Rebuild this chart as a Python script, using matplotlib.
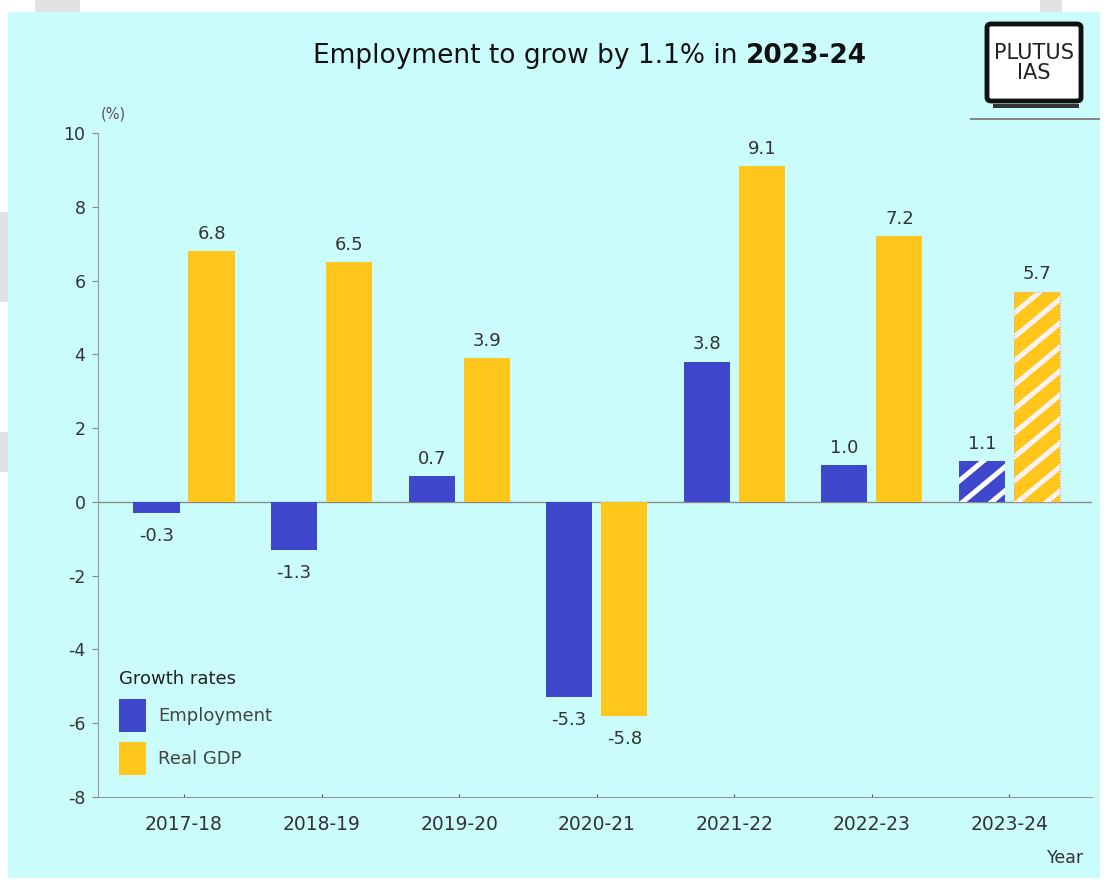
import numpy as np
import matplotlib.pyplot as plt
from matplotlib.patches import Rectangle, FancyBboxPatch, Patch

# data
years = ['2017-18', '2018-19', '2019-20', '2020-21', '2021-22', '2022-23', '2023-24']
employment = [-0.3, -1.3, 0.7, -5.3, 3.8, 1.0, 1.1]
real_gdp = [6.8, 6.5, 3.9, -5.8, 9.1, 7.2, 5.7]
emp_labels = ['-0.3', '-1.3', '0.7', '-5.3', '3.8', '1.0', '1.1']
gdp_labels = ['6.8', '6.5', '3.9', '-5.8', '9.1', '7.2', '5.7']

blue = '#3f48cc'
yellow = '#ffc71c'
bg = '#c9fcfb'
txt = '#333333'

plt.rcParams['font.family'] = ['DejaVu Sans']
plt.rcParams['axes.unicode_minus'] = False

fig = plt.figure(figsize=(11.08, 8.82), dpi=100)
fig.patch.set_facecolor('white')

# cyan panel and the grey scraps around it
fig.patches.append(Rectangle((8/1108, 4/882), 1092/1108, 866/882, transform=fig.transFigure,
                             facecolor=bg, edgecolor='none', zorder=-2))
for (x0, y0, w, h) in [(35, 870, 45, 12), (1040, 870, 22, 12), (0, 580, 8, 90), (0, 410, 8, 40)]:
    fig.patches.append(Rectangle((x0/1108, y0/882), w/1108, h/882, transform=fig.transFigure,
                                 facecolor='#e2e2e2', edgecolor='none', zorder=-2))

ax = fig.add_axes([98/1108, 85/882, 994/1108, 664/882])
ax.set_facecolor('none')

x = np.arange(len(years))
w = 0.335
off = 0.2
n = len(years)

ax.bar(x - off, employment, w, color=blue, zorder=3)
gdp_bars = ax.bar(x + off, real_gdp, w, color=yellow, zorder=3)
emp_bars = ax.patches[:n]

# white diagonal stripes on the projected year (hatch spacing too coarse/fine otherwise)
slope = 3.1  # data units of y per data unit of x, ~40 degrees on screen
for bar, col in [(emp_bars[-1], 'white'), (gdp_bars[-1], '#fff2f2')]:
    bx = bar.get_x()
    bw = bar.get_width()
    for c in np.arange(-3, 8, 0.65):
        ln, = ax.plot([bx - 0.1, bx + bw + 0.1], [c, c + (bw + 0.2) * slope], color=col,
                      lw=3.6, solid_capstyle='butt', zorder=3.5)
        ln.set_clip_path(bar)
ax.bar(x[-1] + off, real_gdp[-1], w, facecolor='none', edgecolor='#f5a0a0', linewidth=0.8,
       linestyle=':', zorder=4)

for i in range(n):
    for val, lab, dx in [(employment[i], emp_labels[i], -off), (real_gdp[i], gdp_labels[i], off)]:
        if val >= 0:
            ax.annotate(lab, (x[i] + dx, val), xytext=(0, 6), textcoords='offset points',
                        ha='center', va='bottom', fontsize=13, color=txt)
        else:
            ax.annotate(lab, (x[i] + dx, val), xytext=(0, -10), textcoords='offset points',
                        ha='center', va='top', fontsize=13, color=txt)

ax.axhline(0, color='#8a8a8a', lw=1, zorder=2)
ax.set_xlim(-0.625, 6.6)
ax.set_ylim(-8, 10)
ax.set_yticks(np.arange(-8, 11, 2))
ax.set_xticks(x)
ax.set_xticklabels(years)
ax.tick_params(axis='y', length=4, color='#8a8a8a', labelsize=12.5, labelcolor=txt, pad=5)
ax.tick_params(axis='x', direction='in', length=2, color='#555555', labelsize=13.5,
               labelcolor=txt, pad=13)
for s in ['top', 'right']:
    ax.spines[s].set_visible(False)
for s in ['left', 'bottom']:
    ax.spines[s].set_color('#9a9a9a')

ax.text(0.003, 1.022, '(%)', transform=ax.transAxes, fontsize=10.5, color='#555555')
fig.text(1066/1108, 1 - 858/882, 'Year', fontsize=12.5, color=txt, ha='center', va='center')

t1 = fig.text(313/1108, 1 - 56/882, 'Employment to grow by 1.1% in ', fontsize=19,
              ha='left', va='center', color='#111111')
ax.annotate('2023-24', xy=(1, 0.5), xycoords=t1, va='center', ha='left',
            fontsize=19, fontweight='bold', color='#111111', annotation_clip=False)

handles = [Patch(facecolor=blue), Patch(facecolor=yellow)]
leg = ax.legend(handles, ['Employment', 'Real GDP'], title='Growth rates', loc='lower left',
                bbox_to_anchor=(0.008, 0.014), frameon=False, fontsize=13, title_fontsize=13,
                handlelength=1.5, handleheight=2.4, handletextpad=0.7, labelspacing=0.6,
                alignment='left', borderpad=0.2)
for t in leg.get_texts():
    t.set_color('#444444')
leg.get_title().set_color('#222222')

# logo
fig.patches.append(FancyBboxPatch((987/1108, 1 - 101/882), 94/1108, 77/882,
                                  boxstyle='round,pad=0,rounding_size=0.004',
                                  transform=fig.transFigure, facecolor='white',
                                  edgecolor='#111111', linewidth=3.5, zorder=5))
fig.patches.append(Rectangle((993/1108, 1 - 108/882), 86/1108, 4/882, transform=fig.transFigure,
                             facecolor='#333333', edgecolor='none', zorder=5))
fig.patches.append(Rectangle((970/1108, 1 - 120/882), 130/1108, 2/882, transform=fig.transFigure,
                             facecolor='#888888', edgecolor='none', zorder=5))
fig.text(1034/1108, 1 - 63/882, 'PLUTUS\nIAS', fontsize=15, ha='center', va='center',
         color='#222222', linespacing=1.0, zorder=6, family='Liberation Sans Narrow')

fig.savefig('out.png', dpi=100, facecolor=fig.get_facecolor())
